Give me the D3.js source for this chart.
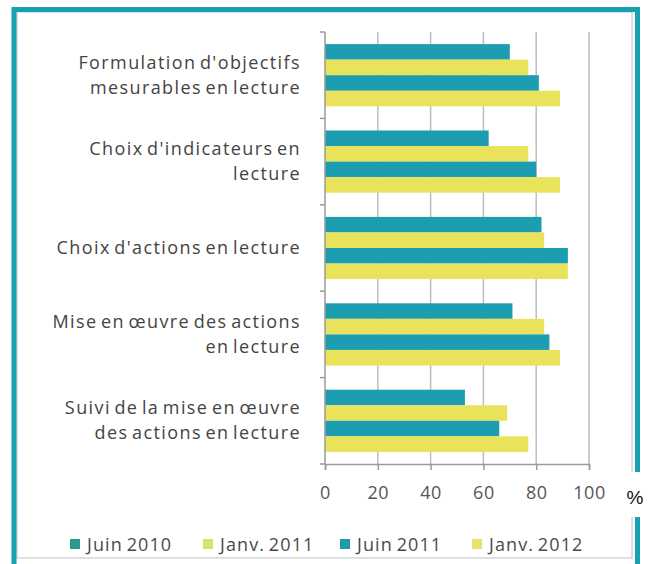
<!DOCTYPE html>
<html>
<head>
<meta charset="utf-8">
<script src="https://cdn.jsdelivr.net/npm/d3@7/dist/d3.min.js"></script>
<style>
  body { margin: 0; background: #fff; }
  svg { display: block; font-family: "Open Sans", sans-serif; }
</style>
</head>
<body>
<div id="chart"></div>
<script>
// categories, top to bottom (each label split into lines)
const categories = [
  ["Formulation d'objectifs", "mesurables en lecture"],
  ["Choix d'indicateurs en", "lecture"],
  ["Choix d'actions en lecture"],
  ["Mise en œuvre des actions", "en lecture"],
  ["Suivi de la mise en œuvre", "des actions en lecture"]
];
const series = ["Juin 2010", "Janv. 2011", "Juin 2011", "Janv. 2012"];
const juin2010 = [70, 62, 82, 71, 53];
const janv2011 = [77, 77, 83, 83, 69];
const juin2011 = [81, 80, 92, 85, 66];
const janv2012 = [89, 89, 92, 89, 77];
const xTicks = [0, 20, 40, 60, 80, 100];

const values = [juin2010, janv2011, juin2011, janv2012];
const barColors = ["#1c9db0", "#e9e35b", "#1c9db0", "#e9e35b"];
const swatchColors = ["#2a9a8f", "#d3e46c", "#1f9aab", "#e6e26e"];

const width = 650, height = 564;
const plot = { left: 325, right: 589, top: 32, bottom: 464 };

const svg = d3.select('#chart')
  .append('svg')
  .attr('width', width)
  .attr('height', height);

// frame
svg.append('rect')
  .attr('x', 17).attr('y', 12).attr('width', 615).attr('height', 546)
  .attr('fill', 'none').attr('stroke', '#d6d6d6').attr('stroke-width', 1.5);
svg.append('path')
  .attr('d', 'M14,564 V9.5 H637.5 V564')
  .attr('fill', 'none').attr('stroke', '#17a0b0').attr('stroke-width', 5);

const x = d3.scaleLinear().domain([0, 100]).range([plot.left, plot.right]);
const y = d3.scaleBand()
  .domain(d3.range(categories.length))
  .range([plot.top, plot.bottom])
  .padding(0);
const yInner = d3.scaleBand()
  .domain(d3.range(series.length))
  .range([y.bandwidth() * 0.14, y.bandwidth() * 0.86]);

// gridlines
svg.append('g')
  .selectAll('line')
  .data(xTicks.slice(1))
  .enter()
  .append('line')
  .attr('x1', d => x(d)).attr('x2', d => x(d))
  .attr('y1', plot.top).attr('y2', plot.bottom)
  .attr('stroke', '#bdbdbd').attr('stroke-width', 1.5);

// bars
const groups = svg.append('g')
  .selectAll('g')
  .data(categories)
  .enter()
  .append('g')
  .attr('transform', (d, i) => `translate(0,${y(i)})`);

groups.selectAll('rect')
  .data((d, i) => values.map((s, j) => ({ s: j, v: s[i] })))
  .enter()
  .append('rect')
  .attr('x', x(0))
  .attr('y', d => yInner(d.s))
  .attr('width', d => x(d.v) - x(0))
  .attr('height', yInner.bandwidth())
  .attr('fill', d => barColors[d.s]);

// category labels
groups.append('text')
  .attr('text-anchor', 'end')
  .attr('font-size', 18)
  .attr('letter-spacing', 1.4)
  .attr('word-spacing', -2.5)
  .attr('fill', '#444')
  .each(function (d) {
    const t = d3.select(this);
    const lh = 25;
    d.forEach((line, k) => {
      t.append('tspan')
        .attr('x', 301)
        .attr('y', y.bandwidth() / 2 + (k - (d.length - 1) / 2) * lh + 6)
        .text(line);
    });
  });

// left axis with boundary ticks
const axisColor = '#9a9a9a';
svg.append('line')
  .attr('x1', plot.left).attr('x2', plot.left)
  .attr('y1', plot.top).attr('y2', plot.bottom)
  .attr('stroke', axisColor).attr('stroke-width', 1.5);
svg.append('g')
  .selectAll('line')
  .data(d3.range(categories.length + 1))
  .enter()
  .append('line')
  .attr('x1', plot.left - 5).attr('x2', plot.left)
  .attr('y1', i => i < categories.length ? y(i) : plot.bottom)
  .attr('y2', i => i < categories.length ? y(i) : plot.bottom)
  .attr('stroke', axisColor).attr('stroke-width', 1.5);

// bottom axis
const xAxis = svg.append('g')
  .attr('transform', `translate(0,${plot.bottom})`)
  .call(d3.axisBottom(x).tickValues(xTicks).tickSize(6).tickPadding(16));
xAxis.select('.domain').attr('stroke', axisColor).attr('stroke-width', 1.5);
xAxis.selectAll('.tick line').attr('stroke', axisColor).attr('stroke-width', 1.5);
xAxis.selectAll('.tick text')
  .attr('font-family', '"Open Sans", sans-serif')
  .attr('font-size', 18)
  .attr('letter-spacing', 0.5)
  .attr('fill', '#555');

// % label over the frame
svg.append('rect')
  .attr('x', 624).attr('y', 472).attr('width', 26).attr('height', 45)
  .attr('fill', '#fff');
svg.append('text')
  .attr('x', 635).attr('y', 504)
  .attr('text-anchor', 'middle')
  .attr('font-family', '"Liberation Sans", sans-serif')
  .attr('font-size', 19)
  .attr('fill', '#111')
  .text('%');

// legend
const legendX = [70, 203, 340, 472];
const legend = svg.append('g')
  .selectAll('g')
  .data(series)
  .enter()
  .append('g')
  .attr('transform', (d, i) => `translate(${legendX[i]},544)`);
legend.append('rect')
  .attr('x', 0).attr('y', -5).attr('width', 10).attr('height', 10)
  .attr('fill', (d, i) => swatchColors[i]);
legend.append('text')
  .attr('x', 17).attr('y', 6.5)
  .attr('font-size', 18)
  .attr('letter-spacing', 1.1)
  .attr('word-spacing', -2)
  .attr('fill', '#4a4a4a')
  .text(d => d);
</script>
</body>
</html>
